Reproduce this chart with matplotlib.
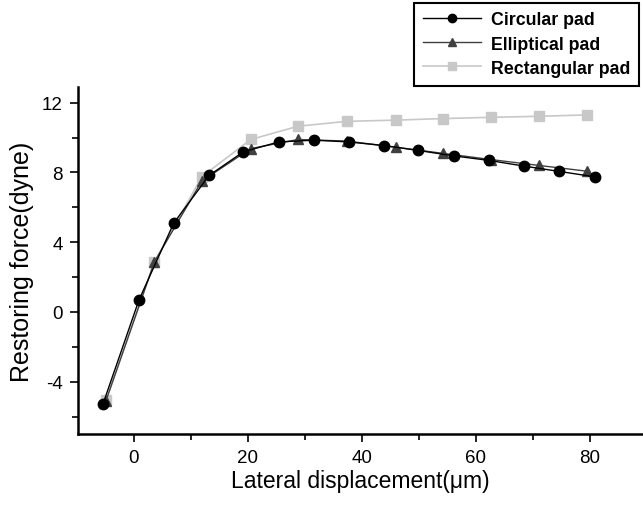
import matplotlib.pyplot as plt
import numpy as np

plt.rcParams['font.family'] = ['Liberation Sans', 'DejaVu Sans']
plt.rcParams['axes.unicode_minus'] = False

# Circular pad
circ_x = [-5.4, 0.9, 7.0, 13.2, 19.2, 25.4, 31.6, 37.7, 43.9, 49.9, 56.1, 62.3, 68.5, 74.6, 80.8]
circ_y = [-5.26, 0.69, 5.1, 7.83, 9.18, 9.75, 9.85, 9.75, 9.54, 9.26, 8.95, 8.69, 8.36, 8.06, 7.75]

# Elliptical pad
ell_x = [-4.9, 3.6, 11.9, 20.5, 28.8, 37.3, 45.9, 54.3, 62.6, 71.1, 79.5]
ell_y = [-5.1, 2.87, 7.5, 9.37, 9.89, 9.8, 9.45, 9.09, 8.74, 8.4, 8.07]

# Rectangular pad
rect_x = [-4.9, 3.6, 11.9, 20.5, 28.8, 37.3, 45.9, 54.3, 62.6, 71.1, 79.5]
rect_y = [-5.07, 2.87, 7.75, 9.89, 10.65, 10.93, 11.0, 11.09, 11.16, 11.22, 11.3]

fig = plt.figure(figsize=(6.43, 5.06), dpi=100)
ax = fig.add_axes([78/643, 71/506, 1 - 78/643, 347/506])

ax.plot(rect_x, rect_y, '-s', color='#c8c8c8', lw=1.2, ms=6.5, label='Rectangular pad', zorder=1)
ax.plot(ell_x, ell_y, '-^', color='#404040', lw=1.0, ms=7.5, label='Elliptical pad', zorder=2)
ax.plot(circ_x, circ_y, '-o', color='black', lw=1.0, ms=7.5, label='Circular pad', zorder=3)

ax.set_xlim(-9.8, 89.3)
ax.set_ylim(-7, 12.9)
ax.set_xticks([0, 20, 40, 60, 80])
ax.set_xticks([10, 30, 50, 70], minor=True)
ax.set_yticks([-4, 0, 4, 8, 12])
ax.set_yticks([-6, -2, 2, 6, 10], minor=True)

for s in ['top', 'right']:
    ax.spines[s].set_visible(False)
for s in ['left', 'bottom']:
    ax.spines[s].set_linewidth(1.8)

ax.tick_params(which='major', length=6, width=1.2, labelsize=13.5, direction='out', pad=5)
ax.tick_params(which='minor', length=4, width=1.2, direction='out')

ax.set_xlabel('Lateral displacement(\u03bcm)', fontsize=16.5, labelpad=2)
ax.set_ylabel('Restoring force(dyne)', fontsize=18, labelpad=6)

h, l = ax.get_legend_handles_labels()
leg = fig.legend(h[::-1], l[::-1], loc='upper right', bbox_to_anchor=(1.0, 1.0),
                 fancybox=False, edgecolor='black', framealpha=1,
                 prop={'weight': 'bold', 'size': 12.8}, handlelength=3.3,
                 handletextpad=0.55, borderaxespad=0.2, borderpad=0.5,
                 labelspacing=0.4, markerscale=0.8)
leg.get_frame().set_linewidth(1.5)

fig.savefig('out.png', dpi=100)
